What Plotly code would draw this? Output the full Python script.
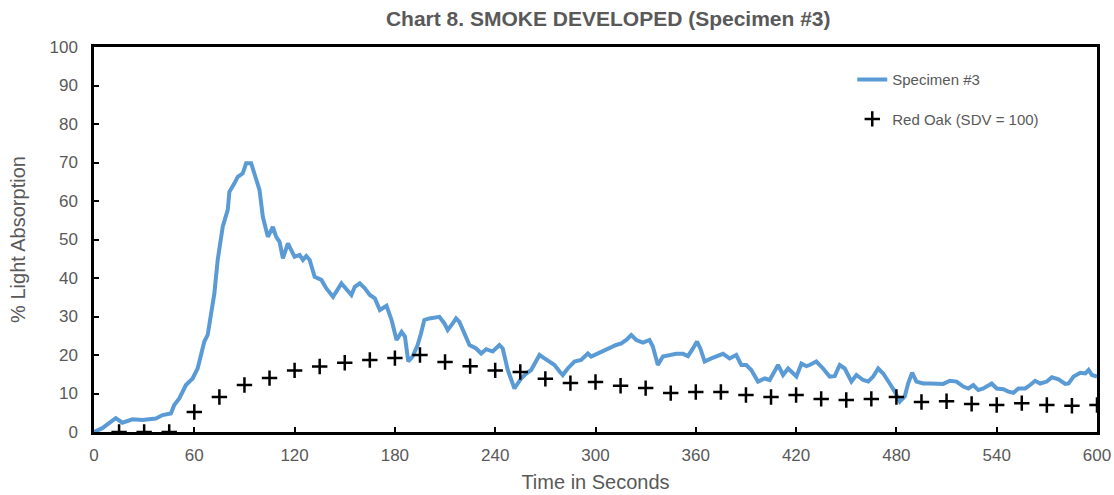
import plotly.graph_objects as go

# Specimen #3 smoke curve (time in s, % light absorption)
spec_t = [0, 5, 9, 13, 17, 23, 29, 33, 37, 41, 46, 48, 51, 55, 59, 62, 64, 66, 68, 70,
          72, 74, 77, 80, 81, 84, 86, 89, 91, 94, 97, 99, 101, 104, 107, 109, 111, 113, 116, 120,
          123, 125, 127, 129, 132, 136, 139, 143, 148, 151, 154, 156, 159, 162, 165, 168, 171, 175, 178, 181,
          184, 186, 188, 190.6, 193.6, 195.6, 197.6, 200.6, 204.6, 206.6, 209.6, 211.6, 214.6, 216.6, 218.6, 221.6, 224.6, 228.6, 231.6, 234.6,
          238.5, 242.5, 244.5, 247.5, 251.5, 255.5, 258.5, 261.5, 266.5, 269.5, 272.5, 275.5, 278.5, 280.4, 283.4, 287.4, 291.4, 295.4, 297.4, 301.4,
          305.4, 308.4, 312.4, 315.4, 318.4, 321.4, 324.4, 328.4, 332.3, 334.3, 337.3, 340.3, 344.3, 348.3, 352.3, 355.3, 358.3, 360.7, 362.7, 365.3,
          369.3, 372.3, 376.3, 380.2, 384.2, 387.2, 390.2, 393.2, 397.2, 401.2, 404.2, 409.2, 412.2, 415.2, 420.2, 423.2, 426.2, 428.1, 432.1, 436.1,
          440.1, 443.1, 446.1, 449.1, 453.1, 456.1, 460.1, 463.1, 466.1, 469.1, 472.1, 476, 479, 482, 485, 487, 489.4, 492, 496, 500,
          504, 508, 512, 516, 520, 523, 526, 529, 532, 537, 540, 544, 547, 550, 553, 557, 560, 563, 566, 570,
          573, 577, 581, 583, 586, 590, 593, 595, 597, 600]
spec_v = [0, 1, 2.3, 3.6, 2.4, 3.3, 3.1, 3.4, 3.5, 4.4, 4.8, 7, 8.7, 12.2, 13.9, 16.5, 20.4, 23.5, 25.2, 30,
          36, 44.7, 53.3, 57.7, 62.4, 64.6, 66.3, 67.2, 69.8, 69.8, 65.5, 62.9, 55.9, 50.7, 53.3, 50.7, 49.4, 45.1, 49, 45.5,
          46, 44.7, 45.7, 44.7, 40.3, 39.5, 37.3, 35.1, 38.6, 36.9, 35.6, 37.7, 38.6, 37.3, 35.6, 34.7, 31.7, 32.8, 29.1, 23.9,
          26, 24.8, 18.3, 19.6, 22.6, 25.6, 29.1, 29.5, 29.8, 29.9, 28.2, 26.5, 28.2, 29.5, 28.6, 25.6, 22.6, 21.7, 20.4, 21.5,
          20.9, 22.6, 21.7, 16.1, 11.3, 13.9, 15.2, 16.1, 20, 19.1, 18.3, 17.4, 15.7, 14.8, 16.5, 18.3, 18.7, 20.4, 19.6, 20.4,
          21.3, 21.7, 22.6, 23, 23.9, 25.2, 23.9, 23.2, 23.9, 22.2, 17.4, 19.6, 20, 20.3, 20.3, 19.7, 21.7, 23.5, 21.7, 18.3,
          19.1, 19.6, 20.3, 19.1, 20, 17.4, 17.4, 16.1, 13.1, 13.9, 13.5, 17.4, 14.8, 16.5, 14.4, 17.8, 17.1, 17.4, 18.3, 16.5,
          14.4, 14.5, 17.4, 16.5, 13.1, 14.8, 13.5, 13.1, 14.4, 16.5, 15.2, 12.6, 10.5, 7.9, 9.2, 12.6, 15.4, 13.1, 12.6, 12.6,
          12.5, 12.5, 13.3, 13.1, 11.8, 11.3, 12.2, 10.9, 11.3, 12.6, 11.3, 11.1, 10.5, 10.2, 11.3, 11.3, 12.2, 13.3, 12.6, 13.1,
          14.2, 13.7, 12.5, 12.6, 14.4, 15.4, 15.2, 16.1, 14.8, 14.4]

# Red Oak reference (SDV = 100)
oak_t = [15, 30, 45, 60, 75, 90, 105, 120, 135, 150, 165, 180, 195, 210, 225, 240, 255, 270, 285, 300,
         315, 330, 345, 360, 375, 390, 405, 420, 435, 450, 465, 480, 495, 510, 525, 540, 555, 570, 585, 600]
oak_v = [0, 0, 0, 5.2, 9.1, 12.2, 14, 16, 17, 18, 18.7, 19.2, 20, 18.2, 17.1, 16, 15.6, 13.8, 12.7, 13,
         12, 11.4, 10.1, 10.4, 10.4, 9.6, 9.1, 9.6, 8.6, 8.3, 8.6, 9.1, 7.8, 8, 7.3, 7, 7.5, 7, 6.8, 7]

x_ticks = list(range(0, 601, 60))
y_ticks = list(range(0, 101, 10))

GREY = "#595959"

fig = go.Figure()
fig.add_trace(go.Scatter(x=spec_t, y=spec_v, mode="lines", name="Specimen #3",
                         legendgroup="a",
                         line=dict(color="#5B9BD5", width=4)))
fig.add_trace(go.Scatter(x=oak_t, y=oak_v, mode="markers", name="Red Oak (SDV = 100)",
                         legendgroup="b",
                         marker=dict(symbol="cross-thin", size=11,
                                     line=dict(color="black", width=2.5), color="black")))

fig.update_layout(
    template="none",
    width=1114, height=495,
    margin=dict(l=94, r=17, t=47, b=63, autoexpand=False),
    paper_bgcolor="white", plot_bgcolor="white",
    font=dict(family="Liberation Sans, Arial, sans-serif", color=GREY, size=15),
    title=dict(text="<b>Chart 8. SMOKE DEVELOPED (Specimen #3)</b>",
               x=0.546, xanchor="center", y=0.962, yanchor="middle",
               font=dict(size=21, color=GREY)),
    legend=dict(x=0.756, y=0.958, xanchor="left", yanchor="top",
                bgcolor="rgba(0,0,0,0)", tracegroupgap=17,
                font=dict(size=15, color=GREY)),
    showlegend=True,
)
fig.update_xaxes(range=[0, 600], tickvals=x_ticks, ticktext=[str(v) for v in x_ticks],
                 automargin=False,
                 showgrid=False, zeroline=False,
                 showline=True, linecolor="black", linewidth=2.5, mirror=True,
                 ticks="inside", ticklen=5, tickcolor="black", tickwidth=1.5,
                 ticklabelstandoff=6,
                 tickfont=dict(size=17, color=GREY),
                 title=dict(text="Time in Seconds", font=dict(size=20, color=GREY), standoff=11))
fig.update_yaxes(range=[0, 100], tickvals=y_ticks, ticktext=[str(v) for v in y_ticks],
                 automargin=False,
                 showgrid=False, zeroline=False,
                 showline=True, linecolor="black", linewidth=2.5, mirror=True,
                 ticks="inside", ticklen=5, tickcolor="black", tickwidth=1.5,
                 ticklabelstandoff=10,
                 tickfont=dict(size=17, color=GREY),
                 title=dict(text="% Light Absorption", font=dict(size=20, color=GREY), standoff=19))

fig.write_html("out.html")
